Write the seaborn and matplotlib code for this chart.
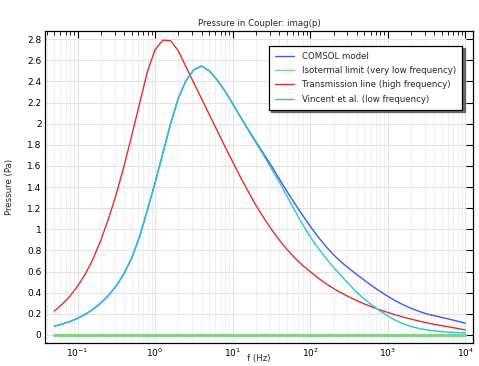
import numpy as np
import pandas as pd
import matplotlib.pyplot as plt
import seaborn as sns
from matplotlib.ticker import LogLocator, FixedLocator, FuncFormatter, NullFormatter

# frequencies, 10 points per decade from 0.05 Hz to 10 kHz
log_f = [k / 10 for k in range(-13, 41)]

comsol = [0.082, 0.102, 0.126, 0.156, 0.195, 0.243, 0.302, 0.375, 0.465, 0.58,
          0.73, 0.93, 1.18, 1.44, 1.72, 2.00, 2.24, 2.41, 2.51, 2.545,
          2.50, 2.415, 2.31, 2.19, 2.065, 1.945, 1.83, 1.715, 1.60, 1.48,
          1.36, 1.245, 1.135, 1.03, 0.93, 0.84, 0.76, 0.69, 0.63, 0.572,
          0.517, 0.463, 0.413, 0.366, 0.323, 0.285, 0.252, 0.224, 0.20, 0.182,
          0.165, 0.148, 0.13, 0.11]
isothermal = [0.0] * 54
transmission = [0.224, 0.29, 0.365, 0.46, 0.575, 0.72, 0.895, 1.10, 1.335, 1.60,
                1.89, 2.19, 2.49, 2.70, 2.79, 2.785, 2.69, 2.535, 2.385, 2.235,
                2.085, 1.935, 1.785, 1.64, 1.495, 1.36, 1.228, 1.11, 1.00, 0.90,
                0.81, 0.73, 0.66, 0.60, 0.54, 0.487, 0.44, 0.398, 0.36, 0.325,
                0.293, 0.264, 0.237, 0.213, 0.19, 0.169, 0.15, 0.132, 0.115, 0.10,
                0.088, 0.075, 0.061, 0.047]
vincent = [0.082, 0.102, 0.126, 0.156, 0.195, 0.243, 0.302, 0.375, 0.465, 0.58,
           0.73, 0.93, 1.18, 1.44, 1.72, 2.00, 2.24, 2.41, 2.51, 2.545,
           2.50, 2.415, 2.31, 2.19, 2.065, 1.94, 1.82, 1.70, 1.575, 1.45,
           1.315, 1.18, 1.05, 0.93, 0.825, 0.73, 0.64, 0.56, 0.48, 0.405,
           0.338, 0.28, 0.228, 0.18, 0.138, 0.105, 0.08, 0.062, 0.048, 0.038,
           0.031, 0.026, 0.022, 0.019]

labels = ['COMSOL model', 'Isotermal limit (very low frequency)',
          'Transmission line (high frequency)', 'Vincent et al. (low frequency)']
colors = ['#3c5ce6', '#7fd67f', '#e0302c', '#26c4e0']
widths = [1.0, 2.2, 1.0, 1.0]

freq = 10 ** np.array(log_f)
df = pd.DataFrame({'f': np.tile(freq, 4),
                   'p': comsol + isothermal + transmission + vincent,
                   'curve': np.repeat(labels, len(freq))})

sns.set_style('white')
plt.rcParams['font.family'] = ['DejaVu Sans']

fig = plt.figure(figsize=(4.79, 3.66), dpi=100)
ax = fig.add_axes([0.094, 0.063, 0.893, 0.852])

for lab, c, w in zip(labels, colors, widths):
    sns.lineplot(data=df[df.curve == lab], x='f', y='p', color=c, linewidth=w,
                 label=lab, ax=ax, errorbar=None)

ax.set_xscale('log')
ax.set_xlim(0.0381, 12500)
ax.set_ylim(-0.076, 2.876)

ax.xaxis.set_major_locator(FixedLocator([0.1, 1, 10, 100, 1000, 10000]))
ax.xaxis.set_major_formatter(FuncFormatter(lambda v, pos: r'$10^{%d}$' % round(np.log10(v))))
ax.xaxis.set_minor_locator(LogLocator(base=10, subs=np.arange(2, 10), numticks=20))
ax.xaxis.set_minor_formatter(NullFormatter())
yt = np.arange(0, 2.81, 0.2)
ax.yaxis.set_major_locator(FixedLocator(yt))
ax.yaxis.set_major_formatter(FuncFormatter(lambda v, pos: ('%.1f' % v).rstrip('0').rstrip('.')))

ax.grid(True, which='major', color='#e2e2e2', linewidth=0.8)
ax.grid(True, which='minor', color='#ececec', linewidth=0.6)
ax.set_axisbelow(True)

ax.tick_params(which='both', direction='in', top=True, right=True, labelsize=6.5,
               colors='black', pad=2.5)
ax.tick_params(which='major', length=5, width=0.8)
ax.tick_params(which='minor', length=3, width=0.6)
for s in ax.spines.values():
    s.set_color('black')
    s.set_linewidth(0.9)

ax.set_title('Pressure in Coupler: imag(p)', fontsize=6.2, pad=4)
ax.set_xlabel('f (Hz)', fontsize=6.2, va='center')
ax.xaxis.set_label_coords(0.5, -0.05)
ax.set_ylabel('Pressure (Pa)', fontsize=6.2, va='center')
ax.yaxis.set_label_coords(-0.084, 0.5)

leg = ax.legend(loc='upper right', bbox_to_anchor=(0.986, 0.967), fontsize=6.2,
                frameon=True, fancybox=False, borderpad=0.75,
                handlelength=2.2, handletextpad=0.9, labelspacing=0.6,
                shadow={'ox': 1.5, 'oy': -1.5, 'color': '0.3', 'alpha': 0.8})
leg.get_frame().set_edgecolor('black')
leg.get_frame().set_linewidth(0.9)
leg.get_frame().set_alpha(1)
for h in leg.get_lines():
    h.set_linewidth(1.0)

fig.savefig('out.png', dpi=100)
